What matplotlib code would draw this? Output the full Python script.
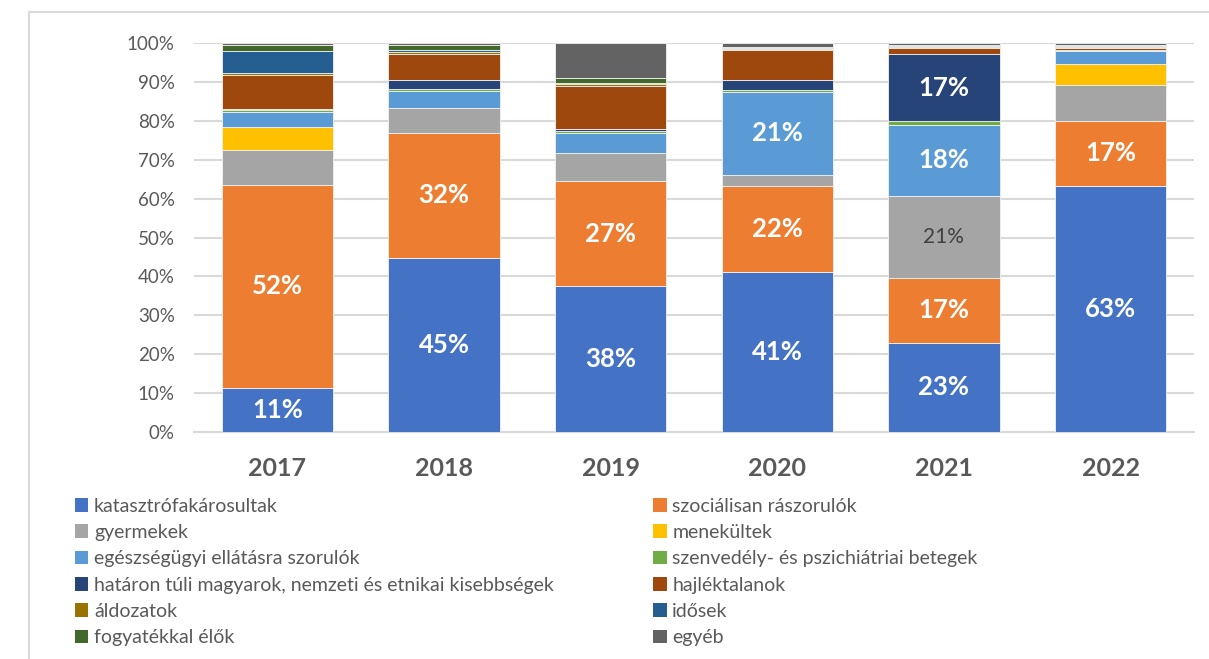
import numpy as np
import matplotlib
matplotlib.use("Agg")
import matplotlib.pyplot as plt
from matplotlib.lines import Line2D
from matplotlib.patches import Patch

plt.rcParams['font.family'] = ['Lato', 'DejaVu Sans']

years = ["2017", "2018", "2019", "2020", "2021", "2022"]

# share of each group per year (%), bottom to top
katasztrofa = [11.3, 44.7, 37.5, 41.1, 22.9, 63.2]
szocialisan = [52.3, 32.2, 27.0, 22.1, 16.7, 16.8]
gyermekek = [9.0, 6.3, 7.3, 2.9, 21.1, 9.3]
menekultek = [5.8, 0.0, 0.0, 0.0, 0.0, 5.2]
egeszsegugyi = [3.9, 4.5, 5.1, 21.3, 18.3, 3.4]
szenvedely = [0.4, 0.4, 0.4, 0.5, 1.0, 0.3]
hataron = [0.4, 2.3, 0.6, 2.7, 17.1, 0.1]
hajlektalanok = [8.7, 6.7, 11.1, 7.6, 1.5, 0.5]
aldozatok = [0.5, 0.5, 0.4, 0.3, 0.3, 0.2]
idosek = [5.7, 0.5, 0.4, 0.3, 0.4, 0.2]
fogyatekkal = [1.5, 1.5, 1.3, 0.3, 0.3, 0.3]
egyeb = [0.5, 0.4, 8.9, 0.9, 0.4, 0.5]

series = [
    ("katasztrófakárosultak", katasztrofa, "#4472C4"),
    ("szociálisan rászorulók", szocialisan, "#ED7D31"),
    ("gyermekek", gyermekek, "#A5A5A5"),
    ("menekültek", menekultek, "#FFC000"),
    ("egészségügyi ellátásra szorulók", egeszsegugyi, "#5B9BD5"),
    ("szenvedély- és pszichiátriai betegek", szenvedely, "#70AD47"),
    ("határon túli magyarok, nemzeti és etnikai kisebbségek", hataron, "#264478"),
    ("hajléktalanok", hajlektalanok, "#9E480E"),
    ("áldozatok", aldozatok, "#997300"),
    ("idősek", idosek, "#255E91"),
    ("fogyatékkal élők", fogyatekkal, "#43682B"),
    ("egyéb", egyeb, "#636363"),
]

fig = plt.figure(figsize=(12.09, 6.59), dpi=100)
ax = fig.add_axes([0.1605, 0.3445, 0.827, 0.5902])

x = np.arange(len(years))
bottom = np.zeros(len(years))
for k, (name, vals, color) in enumerate(series):
    vals = np.array(vals)
    ax.bar(x, vals, 0.667, bottom=bottom, color=color, edgecolor="#F2F2F2",
           linewidth=0.6, zorder=3)
    for i, v in enumerate(vals):
        # only the big segments carry a label
        if v >= 15 or (k == 0 and v >= 10):
            cy = bottom[i] + v / 2
            if name == "gyermekek":
                ax.text(x[i], cy, f"{round(v)}%", ha="center", va="center",
                        fontsize=15, color="#404040", zorder=4)
            else:
                ax.text(x[i], cy, f"{round(v)}%", ha="center", va="center",
                        fontsize=18.5, fontweight="bold", color="white", zorder=4)
    bottom += vals

ax.set_xlim(-0.5, len(years) - 0.5)
ax.set_ylim(0, 100)
ax.set_yticks(np.arange(0, 101, 10))
ax.set_yticklabels([f"{t}%" for t in range(0, 101, 10)], fontsize=13.5, color="#595959")
ax.set_xticks(x)
ax.set_xticklabels(years, fontsize=18, fontweight="bold", color="#595959")
ax.tick_params(axis="both", length=0)
ax.tick_params(axis="y", pad=14)
ax.tick_params(axis="x", pad=18)
ax.grid(axis="y", color="#D9D9D9", linewidth=1.5, zorder=0)
for s in ["top", "right", "left"]:
    ax.spines[s].set_visible(False)
ax.spines["bottom"].set_color("#D9D9D9")
ax.spines["bottom"].set_linewidth(1.5)

# legend in two columns, filled row by row
handles = [Patch(facecolor=c, label=n) for n, _, c in series]
left = handles[0::2]
right = handles[1::2]
for hs, xpos in [(left, 0.0537), (right, 0.532)]:
    fig.legend(handles=hs, loc="upper left", bbox_to_anchor=(xpos, 0.2596),
               frameon=False, fontsize=14, labelcolor="#595959",
               handlelength=0.7, handleheight=0.7, handletextpad=0.3,
               labelspacing=0.48, borderpad=0)

# frame around the chart area
fig.add_artist(Line2D([29 / 1209, 1], [1 - 12 / 659, 1 - 12 / 659],
                      transform=fig.transFigure, color="#D9D9D9", linewidth=1.5))
fig.add_artist(Line2D([29 / 1209, 29 / 1209], [0, 1 - 12 / 659],
                      transform=fig.transFigure, color="#D9D9D9", linewidth=1.5))

fig.savefig("out.png", dpi=100)
